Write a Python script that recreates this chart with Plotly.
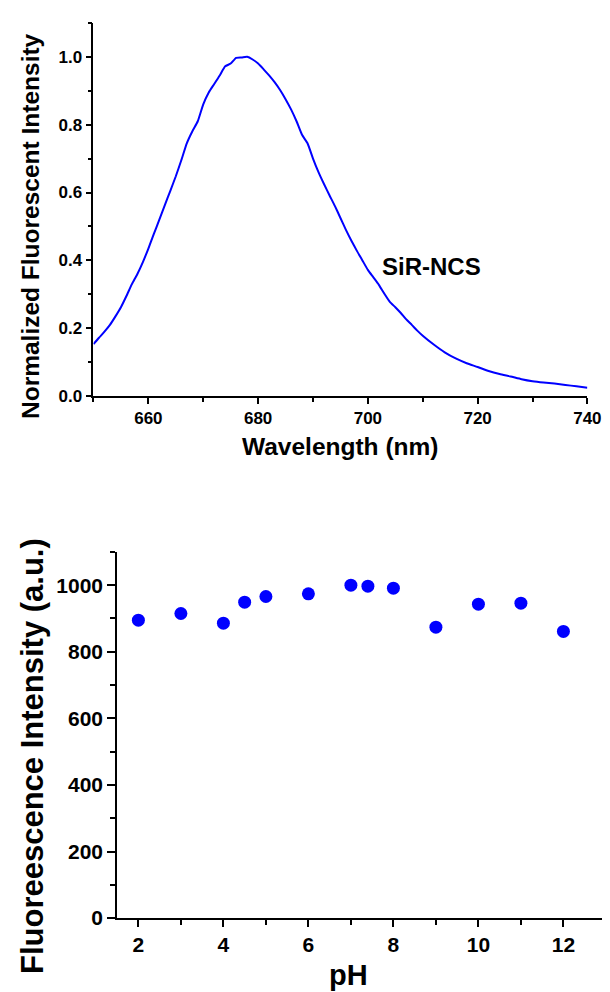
import plotly.graph_objects as go

# ---- Top panel: emission spectrum of SiR-NCS ----
wavelength = [650, 651, 652, 653, 654, 655, 656, 657, 658, 659, 660, 661, 662, 663, 664,
              665, 666, 667, 668, 669, 670, 671, 672, 673, 674, 675, 676, 677, 678, 679,
              680, 681, 682, 683, 684, 685, 686, 687, 688, 689, 690, 691, 692, 693, 694,
              695, 696, 697, 698, 699, 700, 701, 702, 703, 704, 705, 706, 707, 708, 709,
              710, 712, 714, 716, 718, 720, 722, 724, 726, 728, 730, 732, 734, 736, 738, 740]
intensity = [0.153, 0.172, 0.19, 0.21, 0.235, 0.262, 0.295, 0.33, 0.36, 0.395, 0.435, 0.478,
             0.52, 0.563, 0.605, 0.648, 0.695, 0.745, 0.78, 0.81, 0.86, 0.895, 0.92, 0.945,
             0.972, 0.98, 0.997, 0.998, 1.0, 0.992, 0.98, 0.963, 0.945, 0.925, 0.902, 0.875,
             0.845, 0.81, 0.77, 0.745, 0.70, 0.66, 0.625, 0.592, 0.56, 0.525, 0.49, 0.458,
             0.428, 0.40, 0.372, 0.35, 0.328, 0.302, 0.278, 0.262, 0.245, 0.226, 0.21, 0.193,
             0.178, 0.152, 0.129, 0.111, 0.097, 0.086, 0.074, 0.065, 0.058, 0.05, 0.044,
             0.04, 0.037, 0.033, 0.029, 0.025]
top_xticks = [660, 680, 700, 720, 740]
top_yticks = [0.0, 0.2, 0.4, 0.6, 0.8, 1.0]

# ---- Bottom panel: pH dependence ----
ph = [2, 3, 4, 4.5, 5, 6, 7, 7.4, 8, 9, 10, 11, 12]
fluo = [895, 915, 886, 949, 966, 974, 1000, 997, 991, 874, 943, 946, 861]
bot_xticks = [2, 4, 6, 8, 10, 12]
bot_yticks = [0, 200, 400, 600, 800, 1000]

W, H = 610, 992
FONT = "Liberation Sans, Arial, sans-serif"
BLUE = "#0000FF"

fig = go.Figure()
fig.add_trace(go.Scatter(x=wavelength, y=intensity, mode="lines",
                         line=dict(color=BLUE, width=2, shape="spline", smoothing=0.5),
                         xaxis="x", yaxis="y", showlegend=False))
fig.add_trace(go.Scatter(x=ph, y=fluo, mode="markers",
                         marker=dict(color=BLUE, size=13, line=dict(width=0)),
                         xaxis="x2", yaxis="y2", showlegend=False))

def px_x(p):
    return p / W

def px_y(p):
    return 1 - p / H

axis_common = dict(showgrid=False, zeroline=False, showline=True, linecolor="black",
                   linewidth=1.8, ticks="outside", tickcolor="black", tickwidth=1.5)

fig.update_layout(
    width=W, height=H, margin=dict(l=0, r=0, t=0, b=0),
    paper_bgcolor="white", plot_bgcolor="white",
    xaxis=dict(**axis_common, domain=[px_x(87.5), px_x(593)], range=[650, 740],
               tickvals=top_xticks, ticklen=6, anchor="y",
               minor=dict(dtick=10, tick0=650, ticks="outside", ticklen=4, tickcolor="black", tickwidth=1.5),
               tickfont=dict(family=FONT, size=17, color="black", weight="bold")),
    yaxis=dict(**axis_common, domain=[px_y(392.5), px_y(15)], range=[0, 1.1],
               tickvals=top_yticks, tickformat=".1f", ticklen=6, anchor="x",
               minor=dict(dtick=0.1, tick0=0, ticks="outside", ticklen=4, tickcolor="black", tickwidth=1.5),
               tickfont=dict(family=FONT, size=17, color="black", weight="bold")),
    xaxis2=dict(**axis_common, domain=[px_x(111.7), 1.0], range=[1.5, 12.955],
                tickvals=bot_xticks, ticklen=7, anchor="y2",
                minor=dict(dtick=1, tick0=0, ticks="outside", ticklen=5, tickcolor="black", tickwidth=1.5),
                tickfont=dict(family=FONT, size=21, color="black", weight="bold")),
    yaxis2=dict(**axis_common, domain=[px_y(920.3), px_y(550)], range=[0, 1100],
                tickvals=bot_yticks, ticklen=8, anchor="x2",
                minor=dict(dtick=100, tick0=0, ticks="outside", ticklen=5, tickcolor="black", tickwidth=1.5),
                tickfont=dict(family=FONT, size=21, color="black", weight="bold")),
)

def label(text, x, y, size, angle=0):
    fig.add_annotation(text=text, x=px_x(x), y=px_y(y), xref="paper", yref="paper",
                       showarrow=False, textangle=angle, xanchor="center", yanchor="middle",
                       font=dict(family=FONT, size=size, color="black", weight="bold"))

label("SiR-NCS", 433, 261, 24)
label("Normalized Fluorescent Intensity", 23, 220, 24.5, -90)
label("Wavelength (nm)", 340, 443, 24.5)
label("Fluoreescence Intensity (a.u.)", 25, 756, 31, -90)
label("pH", 349, 978, 29)

fig.write_html("out.html")
